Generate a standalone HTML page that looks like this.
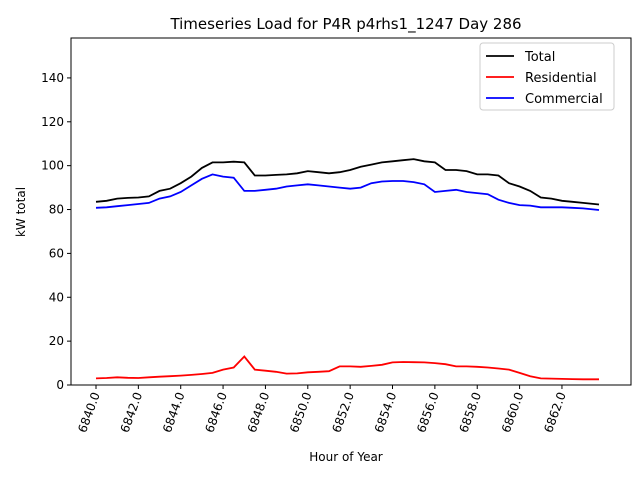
<!DOCTYPE html>
<html><head><meta charset="utf-8"><style>
body{margin:0;background:#fff;font-family:"DejaVu Sans","Liberation Sans",sans-serif;}
</style></head><body>
<svg id="chart" width="640" height="480" xmlns="http://www.w3.org/2000/svg" font-family="DejaVu Sans, Liberation Sans, sans-serif"></svg>
<script>
const hours = [6840,6840.5,6841,6841.5,6842,6842.5,6843,6843.5,6844,6844.5,6845,6845.5,6846,6846.5,6847,6847.5,6848,6848.5,6849,6849.5,6850,6850.5,6851,6851.5,6852,6852.5,6853,6853.5,6854,6854.5,6855,6855.5,6856,6856.5,6857,6857.5,6858,6858.5,6859,6859.5,6860,6860.5,6861,6861.5,6862,6862.5,6863,6863.75];
const totalLoad = [83.5,84,85,85.3,85.5,86,88.5,89.5,92,95,99,101.5,101.5,101.8,101.5,95.5,95.5,95.8,96,96.5,97.5,97,96.5,97,98,99.5,100.5,101.5,102,102.5,103,102,101.5,98,98,97.5,96,96,95.5,92,90.5,88.5,85.5,85,84,83.5,83,82.3];
const residentialLoad = [3,3.2,3.5,3.3,3.2,3.5,3.8,4,4.3,4.6,5,5.5,7,8,13,7,6.5,6,5.2,5.3,5.8,6,6.3,8.5,8.5,8.3,8.7,9.2,10.3,10.5,10.4,10.3,10,9.5,8.5,8.5,8.3,8,7.5,7,5.5,4,3,2.9,2.8,2.7,2.6,2.6];
const commercialLoad = [80.8,81,81.5,82,82.5,83,85,86,88,91,94,96,95,94.5,88.5,88.5,89,89.5,90.5,91,91.5,91,90.5,90,89.5,90,92,92.8,93,93,92.5,91.5,88,88.5,89,88,87.5,87,84.5,83,82,81.8,81,81,81,80.8,80.5,79.8];
const xTicks = [6840,6842,6844,6846,6848,6850,6852,6854,6856,6858,6860,6862];
const yTicks = [0,20,40,60,80,100,120,140];

const svg = document.getElementById('chart');
const NS = 'http://www.w3.org/2000/svg';
const L = 71, R = 631, T = 38, B = 385;
const xMin = 6838.82, xMax = 6865.26, yMin = 0, yMax = 158.2;
const xs = v => L + (v - xMin) / (xMax - xMin) * (R - L);
const ys = v => B - (v - yMin) / (yMax - yMin) * (B - T);
function mk(tag, attrs, parent) {
  const e = document.createElementNS(NS, tag);
  for (const k in attrs) e.setAttribute(k, attrs[k]);
  (parent || svg).appendChild(e);
  return e;
}
function txt(s, attrs) { const e = mk('text', attrs); e.textContent = s; return e; }

const frame = mk('rect', {x: L, y: T, width: R - L, height: B - T, fill: 'none', stroke: '#000', 'stroke-width': 1});



const series = [[totalLoad, '#000', 'total-line'], [residentialLoad, '#ff0000', 'residential-line'], [commercialLoad, '#0000ff', 'commercial-line']];
for (const [vals, col, name] of series) {
  const p = mk('polyline', {points: vals.map((v, i) => xs(hours[i]).toFixed(1) + ',' + ys(v).toFixed(1)).join(' '), fill: 'none', stroke: col, 'stroke-width': 1.8});
  
  
}

for (const t of xTicks) {
  const x = xs(t);
  const tk = mk('line', {x1: x, y1: B, x2: x, y2: B + 4, stroke: '#000'});
  
  
  const lb = txt(t.toFixed(1), {x: x + 4, y: B + 9, 'font-size': 12, 'text-anchor': 'end', transform: `rotate(-70 ${x + 4} ${B + 9})`});
  
  
}
for (const t of yTicks) {
  const y = ys(t);
  const tk = mk('line', {x1: L - 4, y1: y, x2: L, y2: y, stroke: '#000'});
  
  
  const lb = txt(String(t), {x: L - 7, y: y + 4, 'font-size': 12, 'text-anchor': 'end'});
  
  
}
const title = txt('Timeseries Load for P4R p4rhs1_1247  Day 286', {x: 346, y: 29, 'font-size': 15, 'text-anchor': 'middle'});


const xt = txt('Hour of Year', {x: 346, y: 461, 'font-size': 12, 'text-anchor': 'middle'});


const yt = txt('kW total', {x: 25, y: 212, 'font-size': 12, 'text-anchor': 'middle', transform: 'rotate(-90 25 212)'});



const lg = mk('g', {});


mk('rect', {x: 480, y: 43, width: 134, height: 67, rx: 3, fill: '#fff', stroke: '#ccc'}, lg);
const entries = [['Total', '#000'], ['Residential', '#ff0000'], ['Commercial', '#0000ff']];
entries.forEach(([n, c], i) => {
  const y = 56 + i * 21;
  const g = mk('g', {}, lg);
  
  
  mk('line', {x1: 486, y1: y, x2: 514, y2: y, stroke: c, 'stroke-width': 1.8}, g);
  const t = mk('text', {x: 525, y: y + 5, 'font-size': 13}, g);
  t.textContent = n;
});
</script>
</body></html>
